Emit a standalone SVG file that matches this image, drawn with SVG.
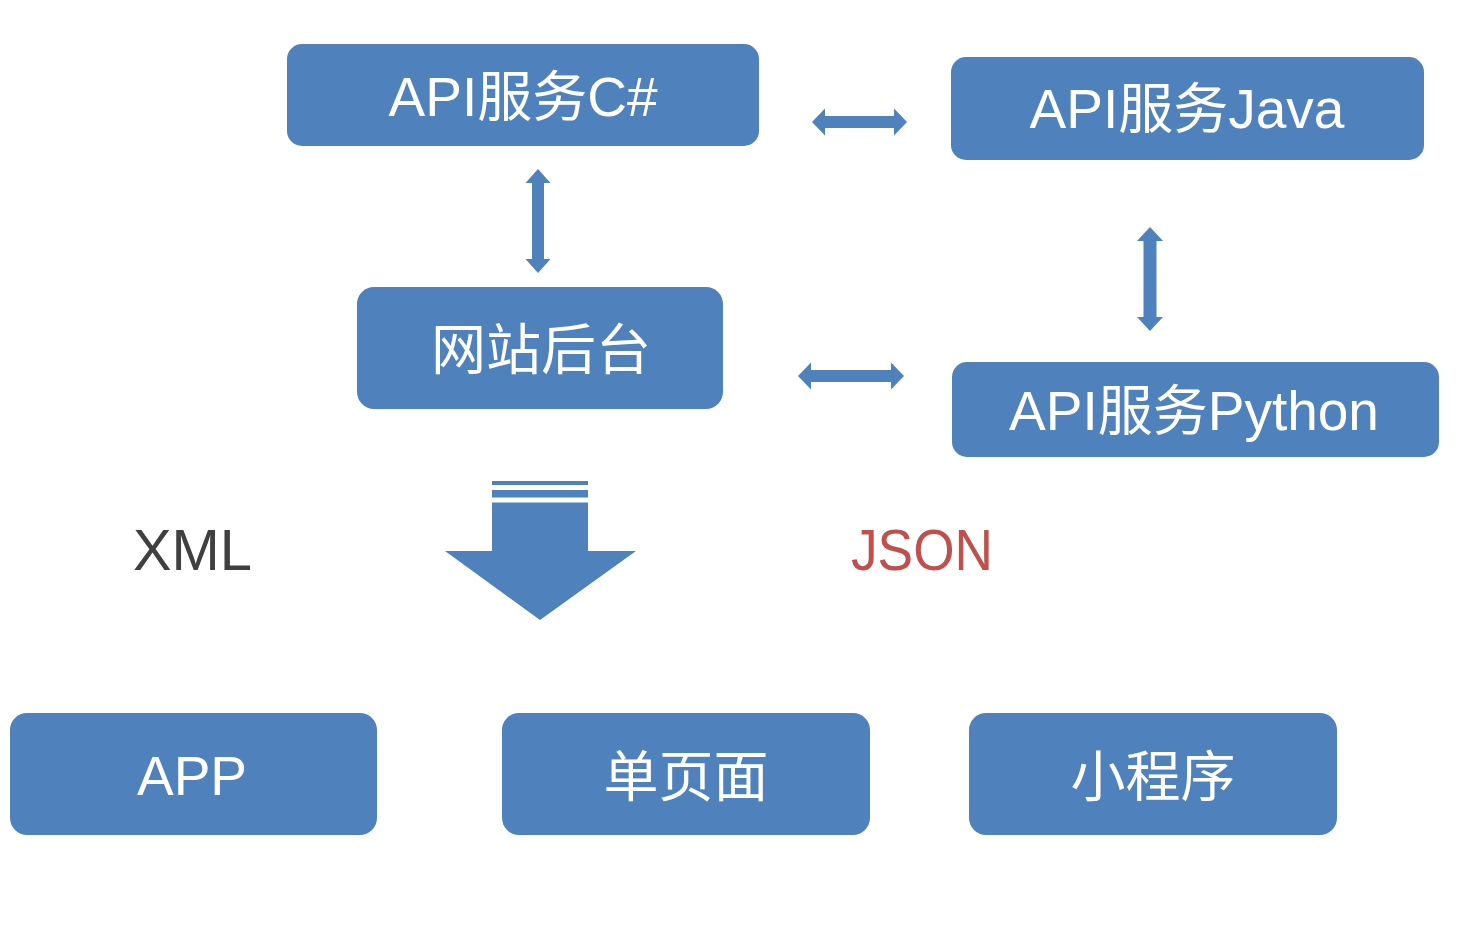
<svg xmlns="http://www.w3.org/2000/svg" width="1468" height="951" viewBox="0 0 1468 951">
<style>
.box{fill:#4F81BD;}
.lbl{fill:#FFFFFF;font-family:"Liberation Sans","Noto Sans CJK SC",sans-serif;font-size:55px;text-anchor:middle;}
.conn{fill:#4F81BD;}
.side{font-family:"Liberation Sans","Noto Sans CJK SC",sans-serif;font-size:58px;}
</style>
<rect x="0" y="0" width="1468" height="951" fill="#FFFFFF"/>
<g id="connectors">
<polygon class="conn" points="812,122 825,108.5 825,116 894,116 894,108.5 907,122 894,135.5 894,128 825,128 825,135.5"/>
<polygon class="conn" points="798,376 811,362.5 811,370 891,370 891,362.5 904,376 891,389.5 891,382 811,382 811,389.5"/>
<polygon class="conn" points="538,169 550.5,183 544,183 544,259 550.5,259 538,273 525.5,259 532,259 532,183 525.5,183"/>
<polygon class="conn" points="1150,227 1163,241 1156.5,241 1156.5,317 1163,317 1150,331 1137,317 1143.5,317 1143.5,241 1137,241"/>
<g id="big-arrow">
<rect class="conn" x="492" y="481" width="96" height="4"/>
<rect class="conn" x="492" y="490" width="96" height="7.5"/>
<polygon class="conn" points="492,502.5 588,502.5 588,551 636,551 540,620 445,551 492,551"/>
</g>
</g>
<g id="node-csharp">
<rect class="box" x="287" y="44" width="472" height="102" rx="15"/>
<text class="lbl" x="523" y="116">API服务C#</text>
</g>
<g id="node-java">
<rect class="box" x="951" y="57" width="473" height="103" rx="15"/>
<text class="lbl" x="1187" y="128">API服务Java</text>
</g>
<g id="node-backend">
<rect class="box" x="357" y="287" width="366" height="122" rx="17"/>
<text class="lbl" x="541" y="369">网站后台</text>
</g>
<g id="node-python">
<rect class="box" x="952" y="362" width="487" height="95" rx="15"/>
<text class="lbl" x="1194" y="430">API服务Python</text>
</g>
<g id="label-xml">
<text class="side" x="133" y="570" fill="#404040" textLength="119" lengthAdjust="spacingAndGlyphs">XML</text>
</g>
<g id="label-json">
<text class="side" x="851" y="570" fill="#C0504D" textLength="142" lengthAdjust="spacingAndGlyphs">JSON</text>
</g>
<g id="node-app">
<rect class="box" x="10" y="713" width="367" height="122" rx="17"/>
<text class="lbl" x="192" y="795">APP</text>
</g>
<g id="node-spa">
<rect class="box" x="502" y="713" width="368" height="122" rx="17"/>
<text class="lbl" x="686" y="796">单页面</text>
</g>
<g id="node-miniapp">
<rect class="box" x="969" y="713" width="368" height="122" rx="17"/>
<text class="lbl" x="1153" y="796">小程序</text>
</g>
</svg>
